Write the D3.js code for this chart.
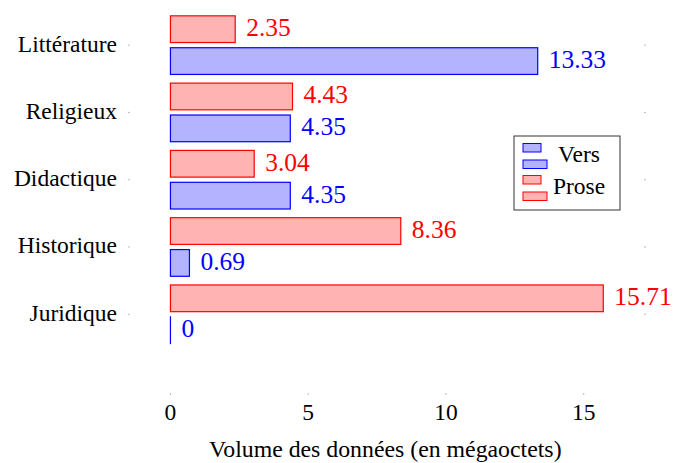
<!DOCTYPE html>
<html>
<head>
<meta charset="utf-8">
<script src="https://cdn.jsdelivr.net/npm/d3@7"></script>
<style>
  body { margin: 0; background: #fff; }
</style>
</head>
<body>
<div id="chart"></div>
<script>
// data
const categories = ["Littérature", "Religieux", "Didactique", "Historique", "Juridique"];
const vers = [13.33, 4.35, 4.35, 0.69, 0];
const prose = [2.35, 4.43, 3.04, 8.36, 15.71];
const xTicks = [0, 5, 10, 15];
const xLabel = "Volume des données (en mégaoctets)";

const width = 674, height = 463;
const fontSize = 23.5;

const svg = d3.select("#chart")
  .append("svg")
    .attr("width", width)
    .attr("height", height)
    .attr("font-family", "'Liberation Serif', 'Times New Roman', Times, serif");

// scales
const x = d3.scaleLinear()
  .domain([-1.54, 17.26])
  .range([128, 646]);

// category index -> pixel
const y = d3.scaleLinear()
  .domain([-1.2, 5.2])
  .range([-35.6, 395]);

const barH = 0.397;   // in category units
const offset = 0.237;

// tiny grey tick marks (axis lines hidden)
svg.selectAll("tick-x")
  .data(xTicks)
  .enter()
  .append("line")
    .attr("x1", d => x(d)).attr("x2", d => x(d))
    .attr("y1", y(5.2)).attr("y2", y(5.2) - 2)
    .attr("stroke", "#aaa").attr("stroke-width", 0.8);

svg.selectAll("tick-yl")
  .data(categories)
  .enter()
  .append("line")
    .attr("x1", x(-1.54)).attr("x2", x(-1.54) + 2)
    .attr("y1", (d, i) => y(i)).attr("y2", (d, i) => y(i))
    .attr("stroke", "#aaa").attr("stroke-width", 0.8);

svg.selectAll("tick-yr")
  .data(categories)
  .enter()
  .append("line")
    .attr("x1", x(17.26)).attr("x2", x(17.26) - 2)
    .attr("y1", (d, i) => y(i)).attr("y2", (d, i) => y(i))
    .attr("stroke", "#aaa").attr("stroke-width", 0.8);

// x tick labels
svg.selectAll("xlab")
  .data(xTicks)
  .enter()
  .append("text")
    .attr("x", d => x(d))
    .attr("y", y(5.2) + 20)
    .attr("dominant-baseline", "middle")
    .attr("text-anchor", "middle")
    .style("font-size", fontSize + "px")
    .text(d => d);

// category labels
svg.selectAll("ylab")
  .data(categories)
  .enter()
  .append("text")
    .attr("x", x(-1.54) - 11)
    .attr("y", (d, i) => y(i) + 1)
    .attr("dominant-baseline", "middle")
    .attr("text-anchor", "end")
    .style("font-size", fontSize + "px")
    .text(d => d);

// axis title
svg.append("text")
  .attr("x", x(7.8))
  .attr("y", 452)
  .attr("dominant-baseline", "middle")
  .attr("text-anchor", "middle")
  .style("font-size", "23.8px")
  .text(xLabel);

// bars
function drawSeries(values, dy, fill, stroke) {
  svg.selectAll(null)
    .data(values)
    .enter()
    .append("rect")
      .attr("x", x(0))
      .attr("y", (d, i) => y(i + dy - barH / 2))
      .attr("width", d => Math.max(x(d) - x(0), 0.01))
      .attr("height", y(barH) - y(0))
      .attr("fill", fill)
      .attr("stroke", stroke)
      .attr("stroke-width", 1.2);

  svg.selectAll(null)
    .data(values)
    .enter()
    .append("text")
      .attr("x", d => x(d) + 11)
      .attr("y", (d, i) => y(i + dy) + 1)
      .attr("dominant-baseline", "middle")
      .attr("fill", stroke)
      .style("font-size", "25.5px")
      .text(d => d);
}

drawSeries(prose, -offset, "#ffb3b3", "#ff0000");
drawSeries(vers, offset, "#b3b3ff", "#0000ff");

// legend
const legend = svg.append("g").attr("transform", "translate(514,136)");
legend.append("rect")
  .attr("width", 106).attr("height", 74)
  .attr("fill", "#fff").attr("stroke", "#333").attr("stroke-width", 1);

const legendItems = [
  {name: "Vers", fill: "#b3b3ff", stroke: "#0000ff"},
  {name: "Prose", fill: "#ffb3b3", stroke: "#ff0000"}
];
legendItems.forEach(function(d, i) {
  const g = legend.append("g").attr("transform", `translate(9, ${7.5 + i * 32})`);
  g.append("rect").attr("width", 18).attr("height", 8.5)
    .attr("fill", d.fill).attr("stroke", d.stroke).attr("stroke-width", 1);
  g.append("rect").attr("y", 16.5).attr("width", 24).attr("height", 8.5)
    .attr("fill", d.fill).attr("stroke", d.stroke).attr("stroke-width", 1);
  g.append("text")
    .attr("x", 56).attr("y", 13.5)
    .attr("dominant-baseline", "middle")
    .attr("text-anchor", "middle")
    .style("font-size", fontSize + "px")
    .text(d.name);
});
</script>
</body>
</html>
